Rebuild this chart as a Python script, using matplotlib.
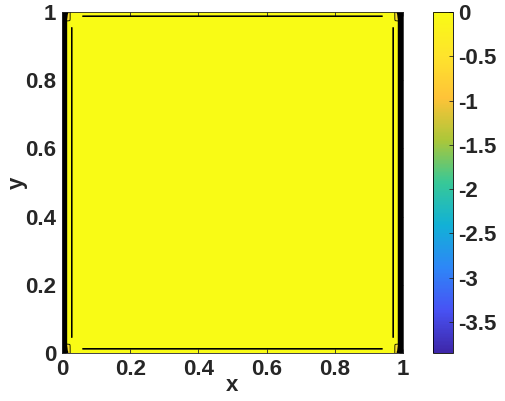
import numpy as np
import matplotlib
matplotlib.use("Agg")
from matplotlib import pyplot as plt
from matplotlib.colors import LinearSegmentedColormap, Normalize
import matplotlib.cm as cm

plt.rcParams['font.family'] = ['Liberation Sans', 'DejaVu Sans']
plt.rcParams['font.weight'] = 'bold'

# parula-like colormap anchors
parula_pts = [
    (0.2422, 0.1504, 0.6603), (0.2810, 0.3228, 0.9579), (0.1786, 0.5289, 0.9682),
    (0.0689, 0.6948, 0.8394), (0.2161, 0.7843, 0.5923), (0.6720, 0.7793, 0.2227),
    (0.9970, 0.7659, 0.2199), (0.9957, 0.8940, 0.1716), (0.9769, 0.9839, 0.0805),
]
parula = LinearSegmentedColormap.from_list('parula', parula_pts)

zmin, zmax = -3.85, 0.0
levels = [-4.0, -3.5, -3.0, -2.5, -2.0, -1.5, -1.0, -0.5, 0.0, 0.01]

# profile across x: steep drop at both walls
edge_x = [0, 0.002, 0.004, 0.006, 0.008, 0.010, 0.012, 0.014, 0.986, 0.988, 0.990, 0.992, 0.994, 0.996, 0.998, 1]
edge_v = [-3.85, -3.2, -2.6, -2.0, -1.4, -0.9, -0.4, 0.003, 0.003, -0.4, -0.9, -1.4, -2.0, -2.6, -3.2, -3.85]
# thin dips near walls (level-0 lines)
dipx_x = [0, 0.0285, 0.029, 0.0295, 0.9705, 0.971, 0.9715, 1]
dipx_v = [0, 0, -0.006, 0, 0, -0.006, 0, 0]
winy_y = [0, 0.04, 0.05, 0.95, 0.96, 1]
winy_v = [0, 0, 1, 1, 0, 0]
dipy_y = [0, 0.0115, 0.012, 0.0125, 0.9875, 0.988, 0.9885, 1]
dipy_v = [0, 0, -0.006, 0, 0, -0.006, 0, 0]
winx_x = [0, 0.055, 0.065, 0.935, 0.945, 1]
winx_v = [0, 0, 1, 1, 0, 0]
# small corner pockets
cor_x = [0, 0.012, 0.024, 0.976, 0.988, 1]
cor_vx = [1, 1, 0, 0, 1, 1]
cor_y = [0, 0.003, 0.026, 0.974, 0.997, 1]
cor_vy = [1, 1, 0, 0, 1, 1]

x = np.linspace(0, 1, 2001)
y = np.linspace(0, 1, 2001)
X, Y = np.meshgrid(x, y)
Z = (np.interp(X, edge_x, edge_v)
     + np.interp(X, dipx_x, dipx_v) * np.interp(Y, winy_y, winy_v)
     + np.interp(Y, dipy_y, dipy_v) * np.interp(X, winx_x, winx_v)
     - 0.7 * np.interp(X, cor_x, cor_vx) * np.interp(Y, cor_y, cor_vy))
Z = np.clip(Z, zmin, 0.005)

norm = Normalize(vmin=zmin, vmax=zmax)
fill_colors = [parula(norm(max(l, zmin))) for l in levels[:-1]]

fig = plt.figure(figsize=(5.06, 4.01), dpi=100)
ax = fig.add_axes([0.1225, 0.1197, 0.6739, 0.8503])
ax.contourf(X, Y, Z, levels=levels, colors=fill_colors)
ax.contour(X, Y, Z, levels=levels[1:-2], colors='k', linewidths=1.5, linestyles='solid')
ax.contour(X, Y, Z, levels=[0.0], colors='k', linewidths=0.6, linestyles='solid')
ax.set_xlim(0, 1)
ax.set_ylim(0, 1)
ticks = [0, 0.2, 0.4, 0.6, 0.8, 1]
tick_labels = ['0', '0.2', '0.4', '0.6', '0.8', '1']
ax.set_xticks(ticks)
ax.set_xticklabels(tick_labels)
ax.set_yticks(ticks)
ax.set_yticklabels(tick_labels)
ax.tick_params(direction='in', length=3, width=0.6, top=True, right=True,
               labelsize=16, pad=4, colors='#262626', labelcolor='#262626')
for s in ax.spines.values():
    s.set_linewidth(0.6)
    s.set_color('#262626')
ax.set_xlabel('x', fontsize=16, fontweight='bold', color='#262626')
ax.set_ylabel('y', fontsize=16, fontweight='bold', color='#262626')
ax.xaxis.set_label_coords(0.5, -0.065)
ax.yaxis.set_label_coords(-0.10, 0.5)

cax = fig.add_axes([0.8557, 0.1197, 0.0395, 0.8503])
sm = cm.ScalarMappable(norm=norm, cmap=parula)
cb = fig.colorbar(sm, cax=cax)
cb_ticks = [0, -0.5, -1, -1.5, -2, -2.5, -3, -3.5]
cb.set_ticks(cb_ticks)
cb.set_ticklabels(['0', '-0.5', '-1', '-1.5', '-2', '-2.5', '-3', '-3.5'])
cb.ax.tick_params(direction='in', length=3, width=0.6, labelsize=16, colors='#262626')
cb.outline.set_linewidth(0.6)

fig.savefig('out.png', dpi=100)
